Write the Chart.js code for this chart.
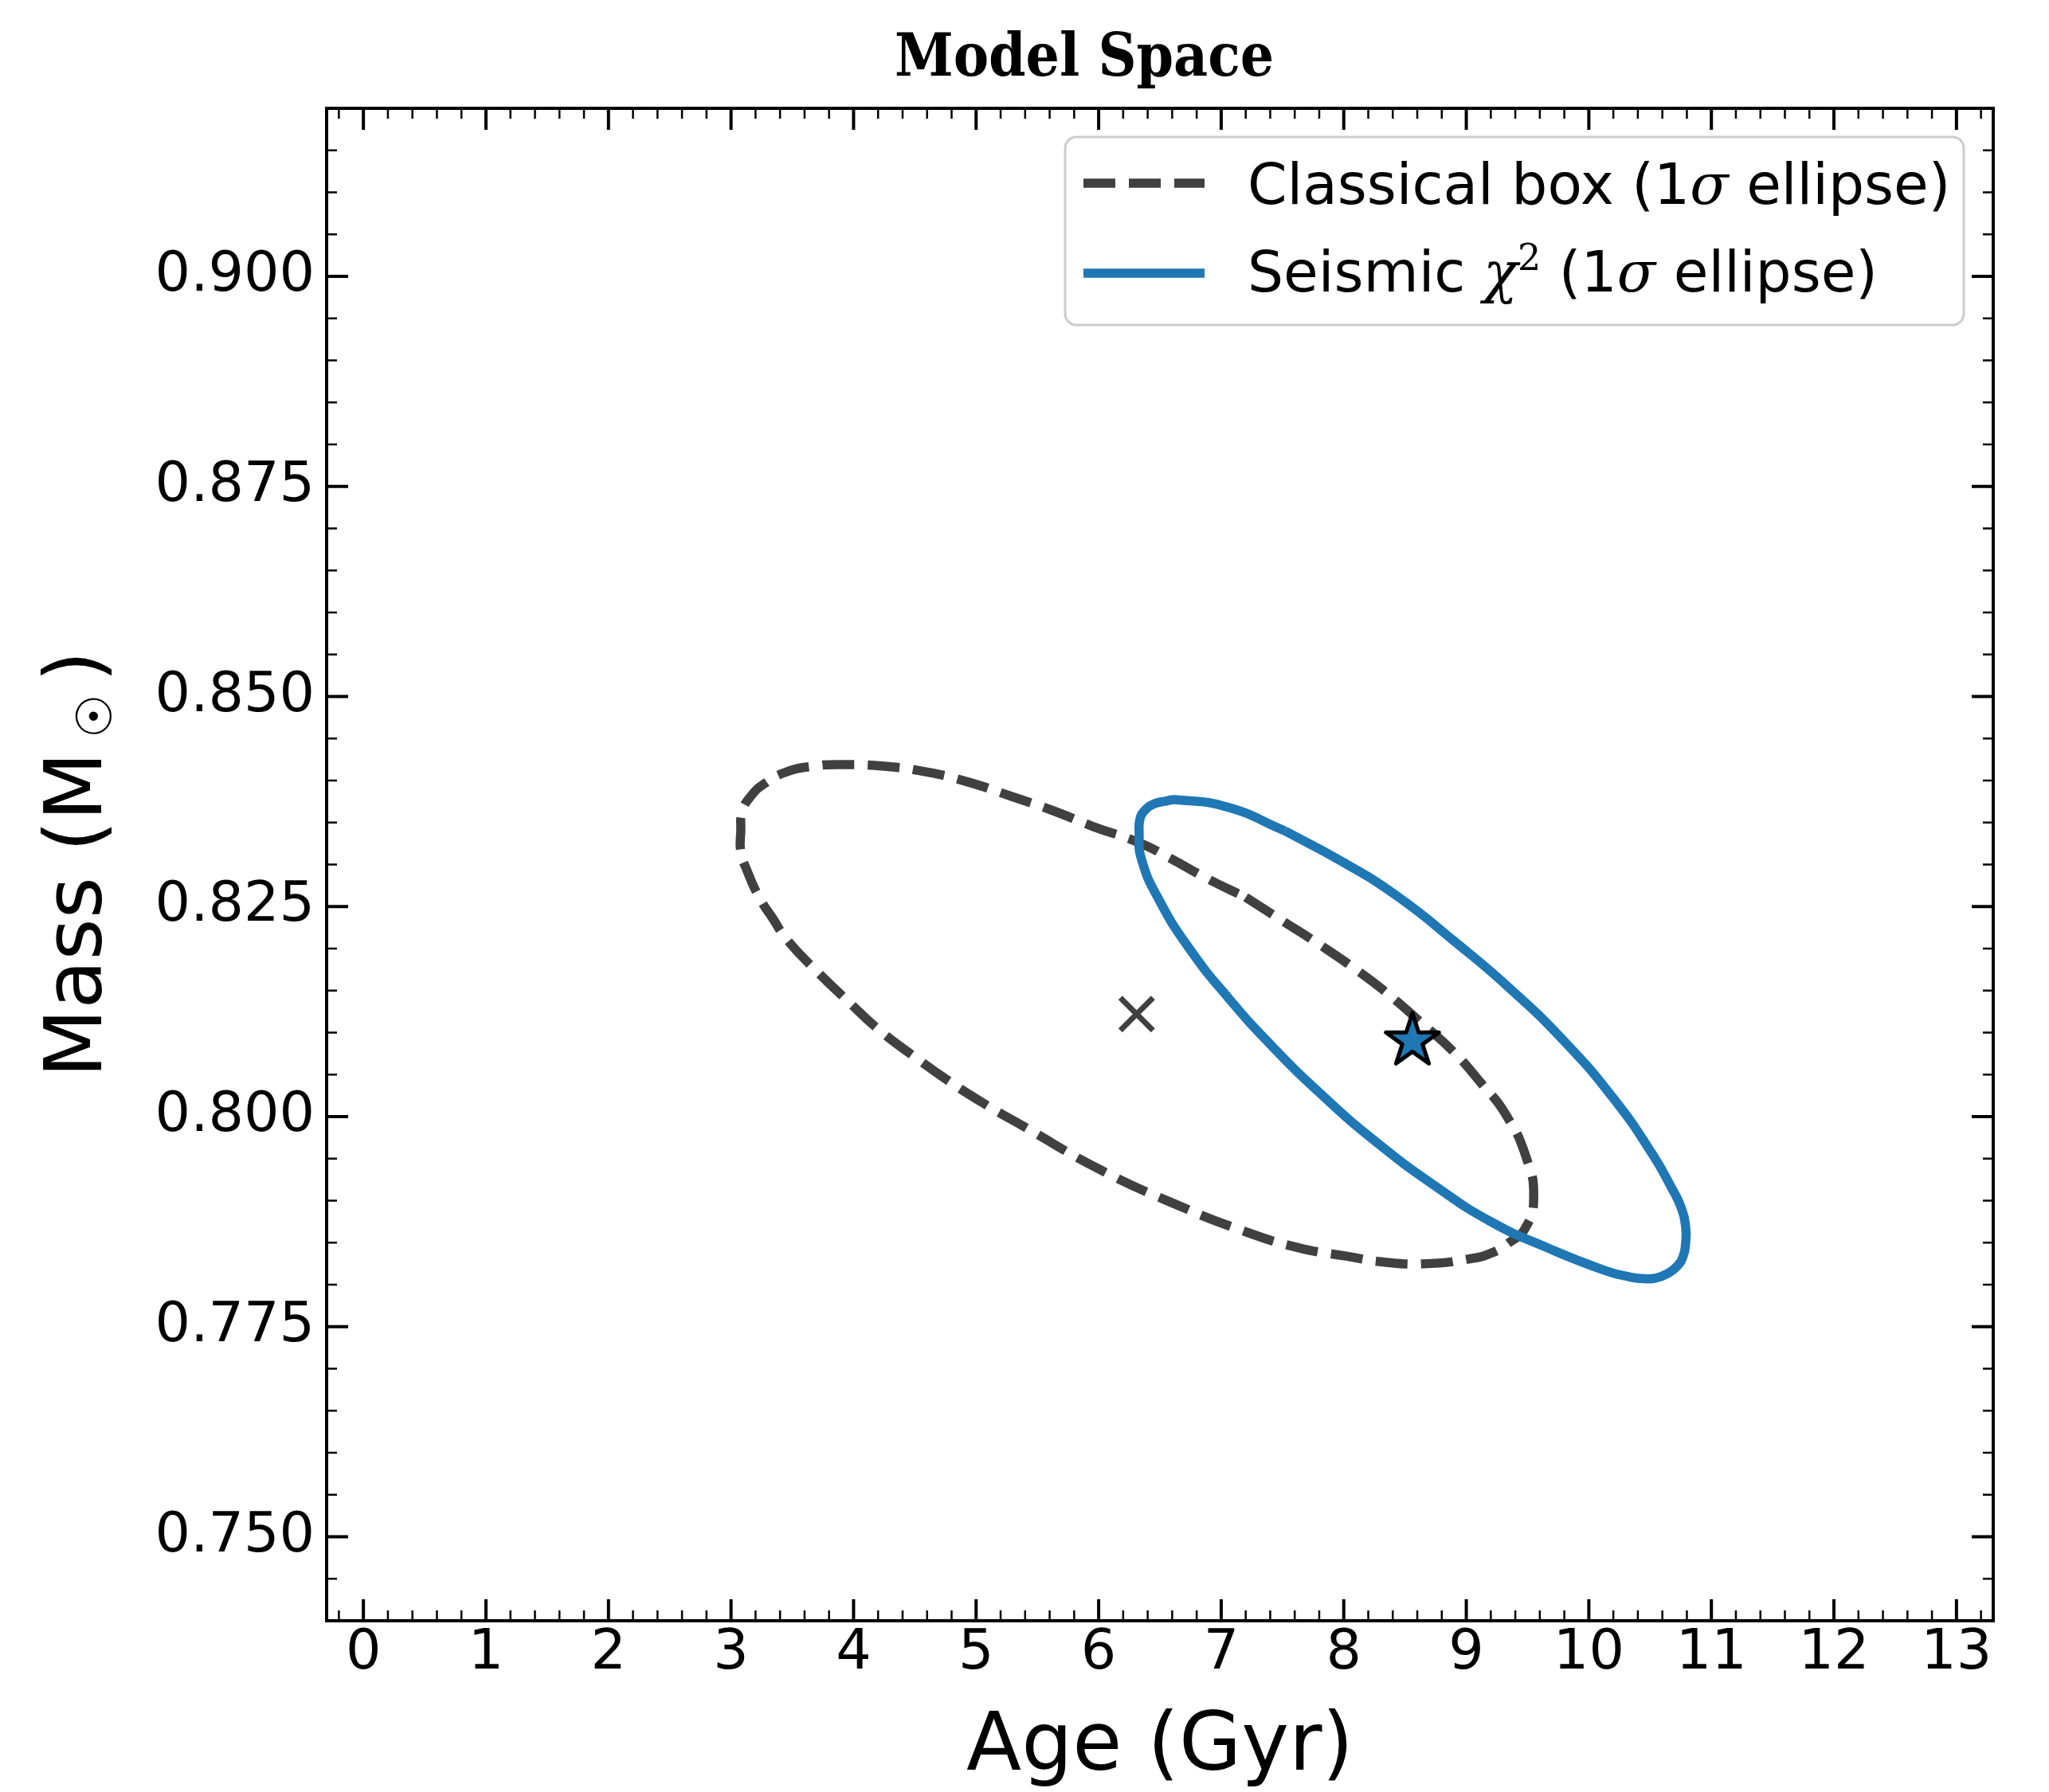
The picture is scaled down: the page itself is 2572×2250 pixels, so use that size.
<!DOCTYPE html>
<html>
<head>
<meta charset="utf-8">
<title>Model Space</title>
<script src="https://cdn.jsdelivr.net/npm/chart.js@4.4.1/dist/chart.umd.min.js"></script>
<style>
  html, body { margin: 0; padding: 0; background: #fff; }
  canvas { display: block; }
</style>
</head>
<body>
<canvas id="modelSpace" width="2572" height="2250"></canvas>
<script>
// tick labels
const ageTicks = [0, 1, 2, 3, 4, 5, 6, 7, 8, 9, 10, 11, 12, 13];
const massTicks = [0.750, 0.775, 0.800, 0.825, 0.850, 0.875, 0.900];

// classical box 1-sigma ellipse (clockwise, starting on the upper right side)
const classicalAge = [7.20, 7.50, 7.80, 8.10, 8.37, 8.63, 8.89, 9.12, 9.32, 9.49, 9.55, 9.48, 9.34,
  9.21, 9.04, 8.68, 8.32, 8.02, 7.63, 7.18, 6.59, 6.01, 5.38, 5.07, 4.77, 4.50, 4.21, 3.95, 3.70,
  3.46, 3.34, 3.23, 3.13, 3.08, 3.08, 3.09, 3.16, 3.28, 3.45, 3.67, 3.90, 4.25, 4.60, 4.94, 5.29,
  5.63, 5.96, 6.33, 6.59, 6.89, 7.20];
const classicalMass = [0.8261, 0.8233, 0.8205, 0.8175, 0.8145, 0.8112, 0.8078, 0.8040, 0.8003, 0.7951,
  0.7903, 0.7867, 0.7849, 0.7838, 0.7831, 0.7825, 0.7827, 0.7834, 0.7844, 0.7864, 0.7898, 0.7937,
  0.7989, 0.8015, 0.8043, 0.8071, 0.8103, 0.8138, 0.8173, 0.8210, 0.8236, 0.8261, 0.8293, 0.8315,
  0.8340, 0.8362, 0.8381, 0.8397, 0.8410, 0.8417, 0.8419, 0.8417, 0.8410, 0.8398, 0.8381, 0.8364,
  0.8345, 0.8326, 0.8307, 0.8283, 0.8261];

// seismic chi^2 1-sigma ellipse (clockwise, starting on the upper side)
const seismicAge = [7.52, 7.98, 8.44, 8.90, 9.36, 9.81, 10.21, 10.52, 10.68, 10.75, 10.79, 10.79,
  10.77, 10.72, 10.64, 10.55, 10.46, 10.34, 10.13, 9.66, 9.20, 8.74, 8.28, 7.85, 7.42, 7.06, 6.75,
  6.50, 6.35, 6.33, 6.34, 6.38, 6.45, 6.53, 6.64, 7.06, 7.52];
const seismicMass = [0.8340, 0.8304, 0.8262, 0.8209, 0.8152, 0.8088, 0.8020, 0.7955, 0.7914, 0.7893,
  0.7869, 0.7850, 0.7834, 0.7822, 0.7813, 0.7808, 0.7807, 0.7809, 0.7817, 0.7844, 0.7875, 0.7918,
  0.7968, 0.8022, 0.8083, 0.8141, 0.8198, 0.8256, 0.8306, 0.8339, 0.8356, 0.8365, 0.8372, 0.8375,
  0.8377, 0.8368, 0.8340];

// centre of the classical box and best seismic model
const centreAge = [6.31];
const centreMass = [0.8122];
const bestAge = [8.56];
const bestMass = [0.8090];

const seriesLabels = ['Classical box (1σ ellipse)', 'Seismic χ² (1σ ellipse)'];

const GREY = '#404040';
const BLUE = '#1f77b4';

function toPoints(xs, ys) {
  return xs.map((x, i) => ({ x: x, y: ys[i] }));
}

// filled star marker with a black edge
function makeStar(radius, fill, edge, lw) {
  const size = 2 * Math.ceil(radius + lw + 2);
  const c = document.createElement('canvas');
  c.width = size;
  c.height = size;
  const g = c.getContext('2d');
  const cx = size / 2, cy = size / 2;
  g.beginPath();
  for (let k = 0; k < 10; k++) {
    const r = k % 2 === 0 ? radius : radius * 0.382;
    const ang = -Math.PI / 2 + k * Math.PI / 5;
    const px = cx + r * Math.cos(ang), py = cy + r * Math.sin(ang);
    if (k === 0) g.moveTo(px, py); else g.lineTo(px, py);
  }
  g.closePath();
  g.fillStyle = fill;
  g.fill();
  g.lineWidth = lw;
  g.lineJoin = 'round';
  g.strokeStyle = edge;
  g.stroke();
  return c;
}

// title sits a little left of the axes centre in the original
const shiftTitle = {
  id: 'shiftTitle',
  afterLayout(chart) {
    if (chart.titleBlock) {
      chart.titleBlock.left = 220;
      chart.titleBlock.right = chart.chartArea.right;
    }
  }
};

// box frame with inward major/minor ticks on all four sides
const frameTicks = {
  id: 'frameTicks',
  afterDraw(chart) {
    const { ctx, chartArea: a, scales: { x, y } } = chart;
    ctx.save();
    ctx.strokeStyle = '#000';
    ctx.lineCap = 'butt';

    ctx.lineWidth = 2.5;
    ctx.beginPath();
    for (let i = -1; i <= 66; i++) {
      if (i % 5 === 0) continue;
      const px = x.getPixelForValue(i / 5);
      ctx.moveTo(px, a.bottom); ctx.lineTo(px, a.bottom - 13);
      ctx.moveTo(px, a.top); ctx.lineTo(px, a.top + 13);
    }
    for (let i = 149; i <= 183; i++) {
      if (i % 5 === 0) continue;
      const py = y.getPixelForValue(i / 200);
      ctx.moveTo(a.left, py); ctx.lineTo(a.left + 13, py);
      ctx.moveTo(a.right, py); ctx.lineTo(a.right - 13, py);
    }
    ctx.stroke();

    ctx.lineWidth = 4;
    ctx.beginPath();
    ageTicks.forEach(v => {
      const px = x.getPixelForValue(v);
      ctx.moveTo(px, a.bottom); ctx.lineTo(px, a.bottom - 27);
      ctx.moveTo(px, a.top); ctx.lineTo(px, a.top + 27);
    });
    massTicks.forEach(v => {
      const py = y.getPixelForValue(v);
      ctx.moveTo(a.left, py); ctx.lineTo(a.left + 27, py);
      ctx.moveTo(a.right, py); ctx.lineTo(a.right - 27, py);
    });
    ctx.stroke();

    ctx.lineWidth = 4;
    ctx.strokeRect(a.left, a.top, a.right - a.left, a.bottom - a.top);
    ctx.restore();
  }
};

// y title with the solar subscript
const massTitle = {
  id: 'massTitle',
  afterDraw(chart) {
    const ctx = chart.ctx;
    ctx.save();
    ctx.translate(127, 1353);
    ctx.rotate(-Math.PI / 2);
    ctx.fillStyle = '#000';
    ctx.textBaseline = 'alphabetic';
    ctx.textAlign = 'left';
    ctx.font = '100px "DejaVu Sans"';
    const head = 'Mass (M';
    const w = ctx.measureText(head).width;
    ctx.fillText(head, 0, 0);
    ctx.fillText(')', w + 88, 0);
    ctx.font = '62px "DejaVu Sans"';
    ctx.textAlign = 'center';
    ctx.textBaseline = 'middle';
    ctx.fillText('\u2609', w + 45, -3);
    ctx.restore();
  }
};

// legend box in the upper right of the axes
const legendBox = {
  id: 'legendBox',
  afterDraw(chart) {
    const ctx = chart.ctx;
    const bx = 1337, by = 172, bw = 1128, bh = 236;
    ctx.save();
    ctx.beginPath();
    ctx.roundRect(bx, by, bw, bh, 14);
    ctx.fillStyle = 'rgba(255,255,255,0.8)';
    ctx.fill();
    ctx.lineWidth = 3;
    ctx.strokeStyle = '#cccccc';
    ctx.stroke();

    const sans = '71px "DejaVu Sans"';
    const ital = 'italic 71px "DejaVu Serif"';
    const sup = '46px "DejaVu Serif"';
    const rows = [
      { ds: chart.data.datasets[0], lineY: 230, base: 256,
        parts: [['Classical box (1', sans, 0], ['σ', ital, 0], [' ellipse)', sans, 0]] },
      { ds: chart.data.datasets[1], lineY: 343, base: 366,
        parts: [['Seismic ', sans, 0], ['χ', ital, 0], ['2', sup, -27], [' (1', sans, 0], ['σ', ital, 0], [' ellipse)', sans, 0]] }
    ];
    rows.forEach(row => {
      ctx.beginPath();
      ctx.strokeStyle = row.ds.borderColor;
      ctx.lineWidth = row.ds.borderWidth;
      ctx.setLineDash(row.ds.borderDash || []);
      ctx.lineCap = 'butt';
      ctx.moveTo(1360, row.lineY);
      ctx.lineTo(1512, row.lineY);
      ctx.stroke();
      ctx.setLineDash([]);

      ctx.fillStyle = '#000';
      ctx.textBaseline = 'alphabetic';
      ctx.textAlign = 'left';
      let tx = 1566;
      row.parts.forEach(([txt, font, dy]) => {
        ctx.font = font;
        ctx.fillText(txt, tx, row.base + dy);
        tx += ctx.measureText(txt).width;
      });
    });
    ctx.restore();
  }
};

Chart.defaults.font.family = '"DejaVu Sans"';
Chart.defaults.color = '#000';

const ctx = document.getElementById('modelSpace').getContext('2d');
new Chart(ctx, {
  type: 'scatter',
  data: {
    datasets: [
      {
        label: seriesLabels[0],
        data: toPoints(classicalAge, classicalMass),
        showLine: true,
        borderColor: GREY,
        borderWidth: 11.5,
        borderDash: [40, 17],
        borderCapStyle: 'butt',
        tension: 0.5,
        pointRadius: 0,
        pointHoverRadius: 0,
        order: 3
      },
      {
        label: seriesLabels[1],
        data: toPoints(seismicAge, seismicMass),
        showLine: true,
        borderColor: BLUE,
        borderWidth: 11.5,
        borderJoinStyle: 'round',
        tension: 0.5,
        pointRadius: 0,
        pointHoverRadius: 0,
        order: 2
      },
      {
        label: 'Classical centre',
        data: toPoints(centreAge, centreMass),
        pointStyle: 'crossRot',
        pointRadius: 29,
        borderWidth: 7,
        borderColor: GREY,
        backgroundColor: GREY,
        order: 1
      },
      {
        label: 'Best seismic model',
        data: toPoints(bestAge, bestMass),
        pointStyle: makeStar(35, BLUE, '#000', 5),
        pointRadius: 36,
        order: 0
      }
    ]
  },
  options: {
    responsive: false,
    devicePixelRatio: 1,
    animation: false,
    layout: { padding: { left: 0, right: 70, top: 0, bottom: 0 } },
    plugins: {
      legend: { display: false },
      tooltip: { enabled: false },
      title: {
        display: true,
        text: 'Model Space',
        color: '#000',
        font: { family: '"DejaVu Serif Condensed", "DejaVu Serif"', size: 74, weight: 'bold', lineHeight: 1 },
        padding: { top: 39, bottom: 23 }
      }
    },
    scales: {
      x: {
        type: 'linear',
        min: -0.3,
        max: 13.3,
        grid: { display: false, drawTicks: false },
        border: { display: false },
        afterBuildTicks: scale => { scale.ticks = ageTicks.map(v => ({ value: v })); },
        afterFit: scale => { scale.height = 215; },
        ticks: {
          font: { size: 70, lineHeight: 1 },
          padding: 7,
          maxRotation: 0,
          autoSkip: false,
          callback: v => String(v)
        },
        title: {
          display: true,
          text: 'Age (Gyr)',
          font: { size: 101, lineHeight: 1 },
          padding: { top: 0, bottom: 4 }
        }
      },
      y: {
        type: 'linear',
        min: 0.74,
        max: 0.92,
        grid: { display: false, drawTicks: false },
        border: { display: false },
        afterBuildTicks: scale => { scale.ticks = massTicks.map(v => ({ value: v })); },
        afterFit: scale => { scale.width = 410; },
        ticks: {
          font: { size: 70, lineHeight: 1 },
          padding: 15,
          autoSkip: false,
          callback: v => v.toFixed(3)
        }
      }
    }
  },
  plugins: [shiftTitle, frameTicks, legendBox, massTitle]
});
</script>
</body>
</html>
